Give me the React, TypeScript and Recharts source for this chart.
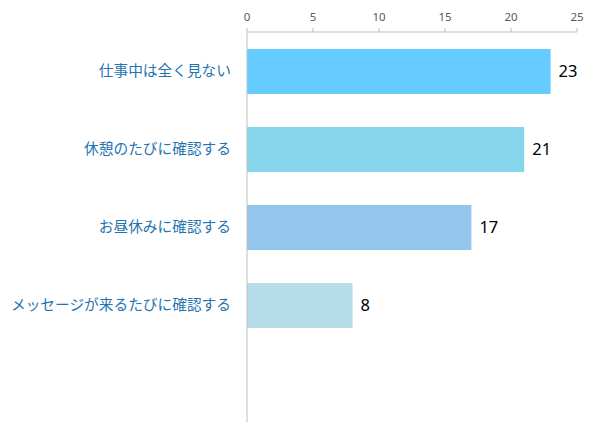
import React from "react";
import { BarChart, Bar, XAxis, YAxis, Cell, LabelList } from "recharts";

const categories = [
  "仕事中は全く見ない",
  "休憩のたびに確認する",
  "お昼休みに確認する",
  "メッセージが来るたびに確認する",
  "",
];
const values: (number | null)[] = [23, 21, 17, 8, null];
const barColors = ["#66CCFF", "#86D5EA", "#93C6EC", "#B7DDEA", "#FFFFFF"];
const xTicks = [0, 5, 10, 15, 20, 25];

const data = categories.map((name, i) => ({ name, value: values[i] }));

export default function App() {
  return (
    <div style={{ position: "absolute", left: 0, top: 0, width: 600, height: 438, background: "#fff" }}>
      <BarChart
        width={600}
        height={438}
        data={data}
        layout="vertical"
        margin={{ top: 2, right: 23, bottom: 16, left: 0 }}
      >
        <XAxis
          type="number"
          orientation="top"
          domain={[0, 25]}
          ticks={xTicks}
          height={30}
          tickSize={4}
          tickMargin={7}
          stroke="#BFBFBF"
          tick={{ fill: "#595959", fontSize: 11.5, fontFamily: "Noto Sans" }}
        />
        <YAxis
          type="category"
          dataKey="name"
          width={247}
          tickLine={false}
          tickSize={0}
          tickMargin={16}
          stroke="#BFBFBF"
          tick={{ fill: "#2474B2", fontSize: 14.7, fontFamily: "Noto Sans CJK JP" }}
        />
        <Bar dataKey="value" barSize={45} isAnimationActive={false}>
          {data.map((d, i) => (
            <Cell key={i} fill={barColors[i]} />
          ))}
          <LabelList
            dataKey="value"
            position="right"
            offset={8}
            fill="#000000"
            fontSize={16.5}
            fontFamily="Noto Sans"
          />
        </Bar>
      </BarChart>
    </div>
  );
}
